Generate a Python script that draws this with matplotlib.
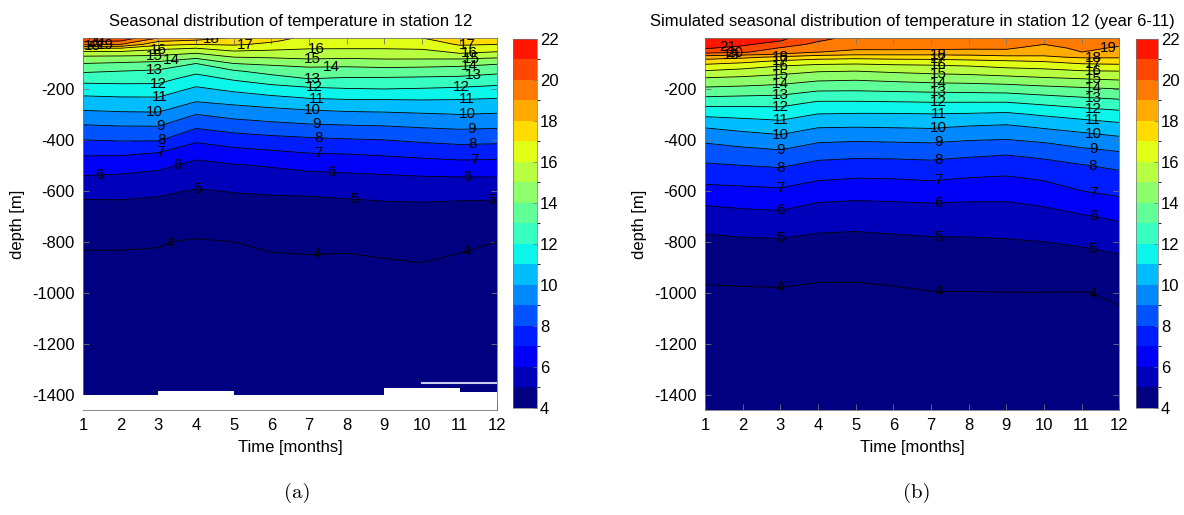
import numpy as np
import matplotlib
matplotlib.use("Agg")
import matplotlib.pyplot as plt
from matplotlib.colors import ListedColormap, BoundaryNorm
from matplotlib.cm import ScalarMappable

plt.rcParams['font.family'] = ['Liberation Sans', 'DejaVu Sans']
plt.rcParams['axes.unicode_minus'] = False

# --- data ---
months = [1, 2, 3, 4, 5, 6, 7, 8, 9, 10, 11, 12]

# observed (a): temperature [degC], rows = depth, cols = month
obs_depth = [0, 10, 25, 40, 60, 80, 100, 130, 160, 200, 250, 300, 350, 400, 450,
             500, 550, 600, 650, 700, 800, 900, 1000, 1200, 1460]
obs_temp = [
    [21.0, 20.7, 19.0, 18.6, 17.9, 17.3, 16.8, 16.7, 16.7, 17.0, 17.6, 17.8],
    [20.38, 20.12, 18.2, 17.9, 17.6, 17.15, 16.61, 16.54, 16.54, 16.78, 17.4, 17.48],
    [19.25, 19.0, 17.3, 17.0, 17.12, 16.81, 16.33, 16.29, 16.29, 16.44, 17.1, 17.0],
    [17.0, 17.0, 16.23, 16.0, 16.5, 16.26, 16.06, 16.05, 16.05, 16.11, 16.67, 16.5],
    [15.43, 15.43, 15.37, 15.0, 15.6, 15.58, 15.58, 15.54, 15.58, 15.61, 16.0, 15.78],
    [14.67, 14.6, 14.5, 14.0, 14.8, 14.93, 15.08, 15.0, 15.08, 15.08, 15.09, 14.92],
    [14.0, 13.86, 13.69, 13.0, 14.0, 14.19, 14.37, 14.33, 14.45, 14.41, 14.31, 14.08],
    [13.14, 13.0, 12.86, 12.25, 12.88, 13.38, 13.6, 13.56, 13.6, 13.55, 13.48, 13.26],
    [12.38, 12.4, 12.36, 11.6, 12.13, 12.57, 13.0, 12.88, 12.87, 12.82, 12.77, 12.56],
    [11.5, 11.58, 11.6, 10.83, 11.22, 11.58, 11.8, 11.95, 12.0, 11.94, 11.85, 11.7],
    [10.58, 10.65, 10.66, 10.0, 10.23, 10.45, 10.71, 10.79, 10.8, 10.85, 10.83, 10.75],
    [9.73, 9.82, 9.85, 9.0, 9.32, 9.5, 9.62, 9.76, 9.82, 9.91, 10.0, 9.92],
    [8.83, 8.92, 8.93, 8.09, 8.41, 8.63, 8.79, 8.85, 8.91, 9.04, 9.14, 9.08],
    [8.0, 8.08, 8.08, 7.18, 7.5, 7.67, 7.81, 7.92, 8.0, 8.17, 8.3, 8.25],
    [7.17, 7.18, 7.0, 6.33, 6.66, 6.85, 7.03, 7.08, 7.19, 7.33, 7.46, 7.42],
    [6.5, 6.43, 6.23, 5.75, 5.93, 6.08, 6.29, 6.36, 6.46, 6.57, 6.66, 6.64],
    [5.88, 5.79, 5.65, 5.33, 5.49, 5.57, 5.67, 5.74, 5.82, 5.9, 5.93, 5.94],
    [5.29, 5.26, 5.15, 4.94, 5.04, 5.1, 5.13, 5.21, 5.33, 5.4, 5.36, 5.33],
    [4.86, 4.89, 4.82, 4.65, 4.77, 4.8, 4.82, 4.87, 4.92, 4.95, 4.9, 4.87],
    [4.59, 4.62, 4.55, 4.35, 4.51, 4.56, 4.58, 4.59, 4.67, 4.71, 4.63, 4.58],
    [4.05, 4.05, 4.03, 3.95, 4.0, 4.07, 4.1, 4.08, 4.15, 4.22, 4.08, 4.0],
    [3.9, 3.9, 3.9, 3.85, 3.88, 3.9, 3.9, 3.9, 3.92, 3.95, 3.9, 3.88],
    [3.8, 3.8, 3.8, 3.78, 3.8, 3.8, 3.8, 3.8, 3.82, 3.85, 3.8, 3.8],
    [3.7, 3.7, 3.7, 3.68, 3.7, 3.7, 3.7, 3.7, 3.7, 3.72, 3.7, 3.7],
    [3.6, 3.6, 3.6, 3.6, 3.6, 3.6, 3.6, 3.6, 3.6, 3.6, 3.6, 3.6],
]
# deepest observed level per month block (no data below)
obs_floor_month = [1, 3, 5, 9, 11, 12]
obs_floor_depth = [-1400, -1385, -1400, -1375, -1390, -1390]
obs_gap_month = [10, 12]
obs_gap_depth = -1355

# simulated (b), year 6-11
sim_depth = [0, 10, 25, 40, 55, 65, 75, 90, 110, 130, 160, 200, 250, 300, 350, 400,
             450, 500, 550, 600, 650, 700, 800, 900, 1000, 1200, 1460]
sim_temp = [
    [21.6, 21.5, 21.2, 20.4, 19.6, 19.6, 19.5, 19.5, 19.5, 19.3, 19.7, 19.4],
    [21.45, 21.35, 21.05, 20.1, 19.48, 19.48, 19.4, 19.4, 19.4, 19.18, 19.57, 19.29],
    [21.25, 21.15, 20.6, 19.7, 19.31, 19.31, 19.26, 19.25, 19.25, 19.0, 19.38, 19.11],
    [21.06, 20.75, 19.9, 19.3, 19.14, 19.14, 19.12, 19.1, 19.1, 18.68, 19.19, 18.89],
    [20.41, 20.17, 19.3, 19.02, 18.79, 18.79, 18.79, 18.71, 18.75, 18.36, 19.0, 18.56],
    [19.4, 19.17, 18.88, 18.25, 18.07, 18.07, 18.07, 18.12, 18.25, 18.15, 18.57, 18.33],
    [18.53, 18.25, 17.81, 17.5, 17.36, 17.44, 17.47, 17.56, 17.74, 17.85, 18.13, 18.11],
    [17.6, 17.33, 16.91, 16.6, 16.5, 16.62, 16.68, 16.8, 16.96, 17.1, 17.45, 17.55],
    [16.69, 16.42, 16.0, 15.73, 15.67, 15.78, 15.86, 16.0, 16.22, 16.36, 16.64, 16.71],
    [15.93, 15.67, 15.38, 15.07, 15.0, 15.16, 15.29, 15.39, 15.58, 15.71, 15.94, 16.0],
    [14.86, 14.74, 14.54, 14.22, 14.14, 14.29, 14.43, 14.51, 14.66, 14.85, 15.0, 15.14],
    [13.8, 13.7, 13.57, 13.2, 13.17, 13.25, 13.32, 13.37, 13.44, 13.65, 13.82, 14.0],
    [12.49, 12.42, 12.4, 11.96, 11.96, 12.0, 12.05, 12.05, 12.05, 12.3, 12.55, 12.76],
    [11.2, 11.31, 11.41, 10.96, 10.91, 10.91, 10.95, 10.9, 10.81, 11.12, 11.39, 11.63],
    [10.05, 10.3, 10.51, 10.04, 10.0, 10.04, 10.09, 9.91, 9.81, 10.1, 10.36, 10.64],
    [9.17, 9.42, 9.63, 9.17, 9.09, 9.14, 9.18, 9.04, 8.97, 9.18, 9.48, 9.75],
    [8.5, 8.67, 8.82, 8.41, 8.31, 8.34, 8.4, 8.24, 8.12, 8.33, 8.69, 8.93],
    [7.88, 8.0, 8.11, 7.73, 7.63, 7.65, 7.72, 7.58, 7.48, 7.67, 7.95, 8.21],
    [7.29, 7.38, 7.47, 7.12, 7.0, 7.03, 7.12, 6.98, 6.9, 7.11, 7.48, 7.68],
    [6.7, 6.77, 6.85, 6.53, 6.41, 6.45, 6.55, 6.43, 6.4, 6.6, 7.0, 7.23],
    [6.1, 6.2, 6.28, 5.95, 5.87, 5.92, 5.98, 5.93, 5.93, 6.1, 6.44, 6.72],
    [5.46, 5.7, 5.76, 5.5, 5.43, 5.5, 5.58, 5.56, 5.59, 5.71, 5.92, 6.17],
    [4.79, 4.85, 4.88, 4.74, 4.71, 4.78, 4.85, 4.87, 4.92, 5.0, 5.12, 5.32],
    [4.21, 4.24, 4.26, 4.15, 4.14, 4.22, 4.31, 4.36, 4.41, 4.47, 4.53, 4.65],
    [3.9, 3.92, 3.93, 3.9, 3.9, 3.92, 3.98, 3.98, 3.99, 3.99, 3.98, 4.06],
    [3.75, 3.77, 3.78, 3.75, 3.75, 3.76, 3.78, 3.8, 3.8, 3.8, 3.8, 3.82],
    [3.65, 3.65, 3.66, 3.65, 3.65, 3.65, 3.66, 3.67, 3.67, 3.67, 3.67, 3.68],
]

line_levels = list(range(4, 22))
fill_levels = list(range(4, 23))
cbar_ticks = list(range(4, 23, 2))

# where the contour labels sit (month, level)
obs_labels = [(1.35, 20), (1.6, 19), (1.25, 18),
              (3.0, 16), (2.9, 15), (3.35, 14), (2.9, 13), (3.0, 12), (3.05, 11),
              (2.9, 10), (3.05, 9), (3.1, 8), (3.05, 7), (3.5, 6), (1.45, 6), (4.05, 5), (3.3, 4),
              (4.4, 18), (5.3, 17), (7.2, 16), (7.1, 15), (7.6, 14), (7.1, 13), (7.15, 12),
              (7.2, 11), (7.1, 10), (7.2, 9), (7.25, 8), (7.25, 7), (7.6, 6), (8.2, 5), (7.2, 4),
              (11.2, 17), (11.25, 16), (11.3, 15), (11.25, 14), (11.35, 13), (11.05, 12),
              (11.2, 11), (11.2, 10), (11.3, 9), (11.35, 8), (11.4, 7), (11.2, 6), (11.85, 5), (11.2, 4)]
sim_labels = [(1.6, 21), (1.8, 20), (1.7, 19)] + \
             [(3.0, l) for l in range(4, 19)] + \
             [(7.2, l) for l in range(4, 19)] + \
             [(11.3, l) for l in range(4, 19)] + [(11.7, 19)]

jet18 = ListedColormap(plt.cm.jet(np.linspace(0.0, 0.885, 18)))
cnorm = BoundaryNorm(fill_levels, 18)

fig = plt.figure(figsize=(11.84, 5.15), dpi=100)


def spot_on_line(segs, m):
    # depth where a contour line crosses month m
    for s in segs:
        xs, ys = s[:, 0], s[:, 1]
        for j in range(len(s) - 1):
            x0, x1 = xs[j], xs[j + 1]
            if x0 != x1 and (x0 - m) * (x1 - m) <= 0:
                t = (m - x0) / (x1 - x0)
                return ys[j] + t * (ys[j + 1] - ys[j])
    return None


def draw_panel(ax_box, cax_box, depth, temp, label_spots, title):
    ax = fig.add_axes(ax_box)
    X, Y = np.meshgrid(months, -np.array(depth, dtype=float))
    Z = np.array(temp)
    ax.contourf(X, Y, Z, levels=fill_levels, cmap=jet18, extend='min')
    cl = ax.contour(X, Y, Z, levels=line_levels, colors='k', linewidths=0.6)
    for m, lev in label_spots:
        y = spot_on_line(cl.allsegs[line_levels.index(lev)], m)
        if y is not None:
            ax.text(m, y, str(lev), ha='center', va='center',
                    fontsize=11, clip_on=True, zorder=5)
    ax.set_xlim(1, 12)
    ax.set_ylim(-1460, 0)
    ax.set_xticks(months)
    ax.set_yticks(range(-1400, -199, 200))
    ax.tick_params(direction='in', top=True, right=True, labelsize=12,
                   length=4, width=0.6, color='0.45', pad=6)
    for sp in ax.spines.values():
        sp.set_color('0.45')
        sp.set_linewidth(0.6)
    ax.set_xlabel('Time [months]', fontsize=12)
    ax.xaxis.set_label_coords(0.5, -0.08)
    ax.set_ylabel('depth [m]', fontsize=12)
    ax.yaxis.set_label_coords(-0.14, 0.5)
    ax.set_title(title, fontsize=12, pad=9)

    cax = fig.add_axes(cax_box)
    cb = fig.colorbar(ScalarMappable(norm=cnorm, cmap=jet18), cax=cax, ticks=cbar_ticks)
    cb.outline.set_linewidth(0.5)
    cb.outline.set_edgecolor('0.45')
    cax.tick_params(direction='in', labelsize=12, length=3, width=0.5, color='0.45', pad=2)
    return ax


ax1 = draw_panel([0.0701, 0.2039, 0.350, 0.7223], [0.4333, 0.2078, 0.0203, 0.7165],
                 obs_depth, obs_temp, obs_labels,
                 'Seasonal distribution of temperature in station 12')
ax1.fill_between(obs_floor_month, obs_floor_depth, -1460, step='post',
                 color='white', zorder=3, linewidth=0)
ax1.plot(obs_gap_month, [obs_gap_depth, obs_gap_depth], color='#c9cdf0', lw=1.5, zorder=3)

ax2 = draw_panel([0.5954, 0.2039, 0.3501, 0.7223], [0.9591, 0.2078, 0.0190, 0.7165],
                 sim_depth, sim_temp, sim_labels,
                 'Simulated seasonal distribution of temperature in station 12 (year 6-11)')

fig.text(297 / 1184, 1 - 493 / 515, '(a)', fontfamily='cmr10', fontsize=15, ha='center', va='center')
fig.text(917 / 1184, 1 - 493 / 515, '(b)', fontfamily='cmr10', fontsize=15, ha='center', va='center')

fig.savefig('out.png', dpi=100)
